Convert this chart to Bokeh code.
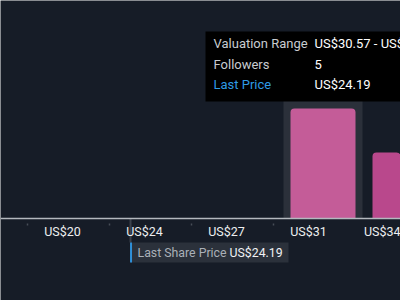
from bokeh.plotting import figure
from bokeh.models import (Range1d, LinearAxis, FixedTicker, ColumnDataSource, Label)
from bokeh.embed import file_html
from bokeh.resources import INLINE

# ---- data ----
bin_starts = [20.31, 23.73, 27.15, 30.57, 33.99]
bin_width = 3.42
followers = [0, 0, 0, 5, 3]
tick_labels = ["US$20", "US$24", "US$27", "US$31", "US$34"]
bar_colors = ["#c45c98", "#c45c98", "#c45c98", "#c45c98", "#b9488c"]
highlight_index = 3
last_price = 24.19
valuation_range = "US$30.57 - US$33.99"
last_price_text = "US$24.19"

BG = "#161c27"
px = bin_width / 82.0          # dollars per pixel
py = 1 / 22.0                  # followers per pixel

x0 = bin_starts[highlight_index] - 283 * px
x_range = Range1d(x0, x0 + 400 * px)
y_range = Range1d(-82 * py, 218 * py)

p = figure(width=400, height=300, x_range=x_range, y_range=y_range,
           x_axis_type=None, y_axis_type=None, output_backend="svg",
           toolbar_location=None, min_border=0)
p.background_fill_color = BG
p.border_fill_color = BG
p.outline_line_color = None
p.xgrid.visible = False
p.ygrid.visible = False

# highlight column behind hovered bin
hs = bin_starts[highlight_index]
p.quad(left=[hs], right=[hs + bin_width * 79 / 82], bottom=[0], top=[7],
       fill_color="#2b303a", line_color=None)

# bars
src = ColumnDataSource(dict(
    x=[b + bin_width * (7 + 32.5) / 82 for b in bin_starts],
    top=followers, color=bar_colors))
p.vbar(x="x", top="top", bottom=0, width=bin_width * 65 / 82, source=src,
       fill_color="color", line_color=None, border_radius=(4, 4, 0, 0))

# axis at zero
axis = LinearAxis(fixed_location=0)
label_pos = [b + bin_width * 25 / 82 for b in bin_starts]
minor_pos = [b - bin_width * 10 / 82 for b in bin_starts[:4]]
axis.ticker = FixedTicker(ticks=label_pos, minor_ticks=minor_pos)
axis.major_label_overrides = {lp: t for lp, t in zip(label_pos, tick_labels)}
axis.axis_line_color = "#b4b8be"
axis.axis_line_width = 1.5
axis.major_tick_line_color = None
axis.major_tick_out = 0
axis.major_tick_in = 0
axis.minor_tick_line_color = "#474d57"
axis.minor_tick_in = -5
axis.minor_tick_out = 7
axis.minor_tick_line_width = 1.5
axis.major_label_standoff = -2
axis.major_label_text_color = "#eceef0"
axis.major_label_text_font = "Roboto"
axis.major_label_text_font_size = "12.5px"
p.add_layout(axis, "below")

# last price marker
p.segment(x0=[last_price], x1=[last_price], y0=[0], y1=[-24 * py],
          line_color="#3c424c", line_width=2)
p.quad(left=[last_price], right=[last_price + 158 * px], top=[-24 * py], bottom=[-44 * py],
       fill_color="#2b313b", line_color=None)
p.quad(left=[last_price - 0.5 * px], right=[last_price + 1.5 * px], top=[-24 * py], bottom=[-44 * py],
       fill_color="#2f8fd8", line_color=None)
p.add_layout(Label(x=last_price + 7 * px, y=-34 * py, text="Last Share Price",
                   text_color="#aab0b8", text_font="Roboto", text_font_size="12.3px",
                   text_baseline="middle"))
p.add_layout(Label(x=last_price + 99 * px, y=-34 * py, text=last_price_text,
                   text_color="#f0f2f4", text_font="Roboto", text_font_size="12.3px",
                   text_baseline="middle"))

# tooltip
tx = hs - 78 * px
p.quad(left=[tx], right=[tx + 250 * px], top=[187 * py], bottom=[117 * py],
       fill_color="#000000", line_color=None)
rows = [("Valuation Range", valuation_range, "#c8ccd0"),
        ("Followers", str(followers[highlight_index]), "#c8ccd0"),
        ("Last Price", last_price_text, "#2f9be6")]
for i, (k, v, c) in enumerate(rows):
    yy = (175 - 20.5 * i) * py
    p.add_layout(Label(x=tx + 8 * px, y=yy, text=k, text_color=c, text_font="Roboto",
                       text_font_size="13px", text_baseline="middle"))
    p.add_layout(Label(x=tx + 109 * px, y=yy, text=v, text_color="#ffffff", text_font="Roboto",
                       text_font_size="13px", text_baseline="middle"))

open("out.html", "w").write(file_html(p, INLINE))
